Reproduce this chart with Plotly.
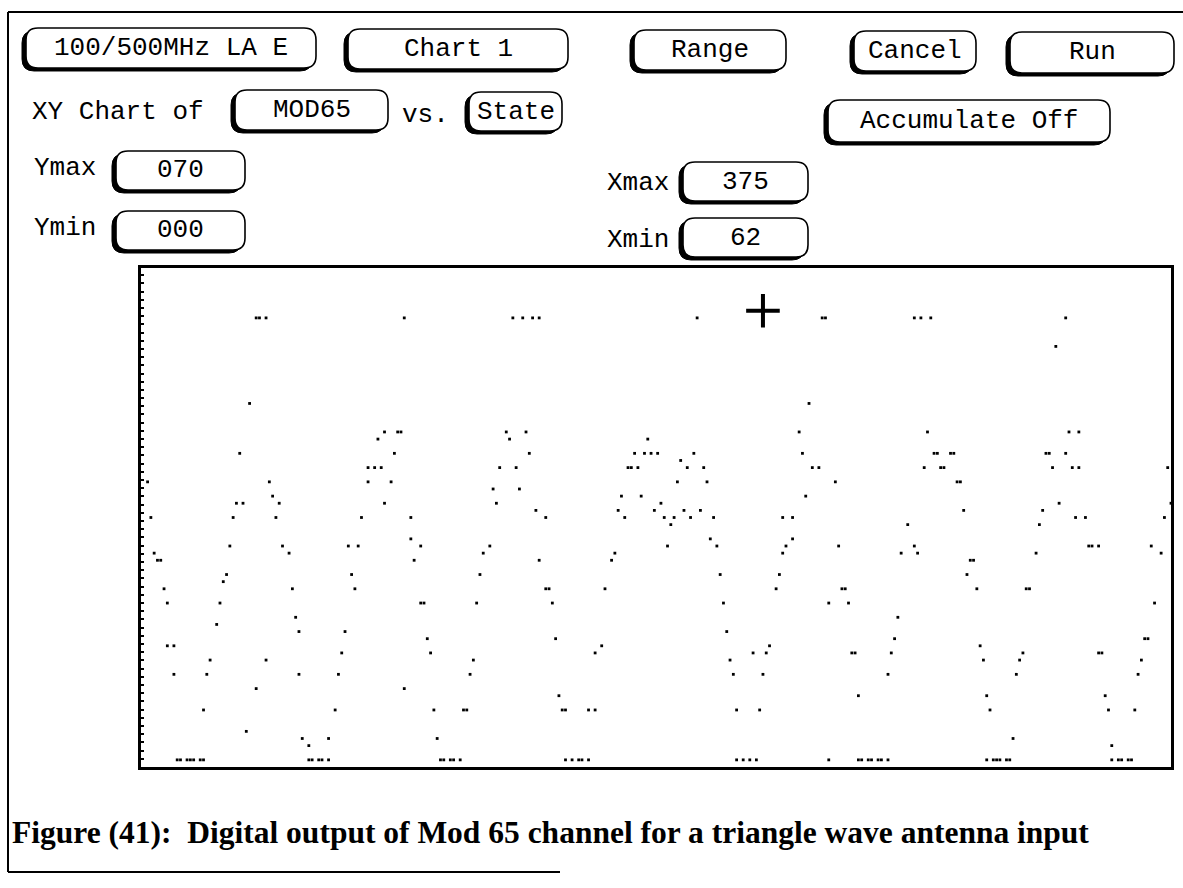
import plotly.graph_objects as go

W, H = 1183, 888

# Logged MOD65 samples: acquisition state number and decoded value
state = [
    97, 98, 100, 142, 175, 178, 181, 183, 231, 269, 270, 297, 299, 302, 343,
    340, 95, 265,
    136, 140, 141, 173, 179, 262, 301, 344, 347,
    134, 174, 216,
    92, 139, 180, 212, 215, 217, 219, 230, 263, 303, 304, 308, 309, 337, 338, 343,
    226,
    131, 133, 135, 171, 176, 210, 211, 213, 228, 233, 266, 268, 300, 305, 306, 339, 345, 347, 374,
    64, 101, 131, 138, 225, 234, 273, 310, 311,
    169, 177,
    102, 208, 214, 264,
    91, 93, 104, 136, 170, 220, 341, 375,
    182, 207, 218, 227, 232, 312, 336,
    65, 90, 103, 129, 144, 185, 209, 221, 224, 229, 236, 257, 260, 346, 349, 373,
    223, 295, 335,
    144, 235, 260,
    89, 105, 125, 128, 147, 168, 222, 237, 258, 274, 297, 350, 351, 353, 369,
    66, 107, 166, 206, 257, 293, 298, 334, 372,
    67, 68, 145, 183, 205, 314, 315,
    88, 126, 165, 238, 256, 313,
    87,
    69, 108, 127, 185, 186, 203, 255, 275, 276, 316, 331, 332,
    70, 86, 147, 148, 164, 187, 239, 271, 277, 370,
    109, 292,
    85,
    110, 124, 240,
    149, 188, 291, 367, 368,
    70, 72, 202, 253, 317,
    123, 150, 200, 248, 252, 278, 279, 290, 330, 353, 354,
    83, 100, 163, 241, 318, 329, 366,
    72, 82, 110, 122, 162, 242, 251, 289, 328, 365,
    97, 142,
    189, 280, 319, 355,
    81, 121, 151, 160, 161, 190, 191, 198, 200, 243, 250, 320, 356, 364,
    94,
    111, 119, 152, 327,
    113, 357,
    73, 74, 76, 77, 78, 80, 81, 113, 114, 116, 117, 119, 153, 154, 156, 157, 159,
    191, 193, 195, 196, 198, 243, 245, 247, 249, 271, 280, 281, 283, 284, 286, 287, 289,
    319, 321, 322, 323, 325, 326, 357, 359, 360, 362, 363,
]

mod65 = [
    63, 63, 63, 63, 63, 63, 63, 63, 63, 63, 63, 63, 63, 63, 63,
    59, 51, 51,
    47, 47, 47, 47, 47, 47, 47, 47, 47,
    46, 46, 46,
    44, 44, 44, 44, 44, 44, 44, 44, 44, 44, 44, 44, 44, 44, 44, 44,
    43,
    42, 42, 42, 42, 42, 42, 42, 42, 42, 42, 42, 42, 42, 42, 42, 42, 42, 42, 42,
    40, 40, 40, 40, 40, 40, 40, 40, 40,
    39, 39,
    38, 38, 38, 38,
    37, 37, 37, 37, 37, 37, 37, 37,
    36, 36, 36, 36, 36, 36, 36,
    35, 35, 35, 35, 35, 35, 35, 35, 35, 35, 35, 35, 35, 35, 35, 35,
    34, 34, 34,
    32, 32, 32,
    31, 31, 31, 31, 31, 31, 31, 31, 31, 31, 31, 31, 31, 31, 31,
    30, 30, 30, 30, 30, 30, 30, 30, 30,
    29, 29, 29, 29, 29, 29, 29,
    27, 27, 27, 27, 27, 27,
    26,
    25, 25, 25, 25, 25, 25, 25, 25, 25, 25, 25, 25,
    23, 23, 23, 23, 23, 23, 23, 23, 23, 23,
    21, 21,
    20,
    19, 19, 19,
    18, 18, 18, 18, 18,
    17, 17, 17, 17, 17,
    16, 16, 16, 16, 16, 16, 16, 16, 16, 16, 16,
    15, 15, 15, 15, 15, 15, 15,
    13, 13, 13, 13, 13, 13, 13, 13, 13, 13,
    11, 11,
    10, 10, 10, 10,
    8, 8, 8, 8, 8, 8, 8, 8, 8, 8, 8, 8, 8, 8,
    5,
    4, 4, 4, 4,
    3, 3,
    1, 1, 1, 1, 1, 1, 1, 1, 1, 1, 1, 1, 1, 1, 1, 1, 1,
    1, 1, 1, 1, 1, 1, 1, 1, 1, 1, 1, 1, 1, 1, 1, 1, 1,
    1, 1, 1, 1, 1, 1, 1, 1, 1, 1, 1,
]
assert len(state) == len(mod65)

# Chart range settings and cursor position
x_min, x_max = 62, 375
y_min, y_max = 0, 70
cursor_state, cursor_value = [251], [64]

SCREEN = "Liberation Mono"
INK = "black"


def px(x):
    return x / W


def py(y):
    return 1 - y / H


def rounded(x0, y0, x1, y1, r=12):
    pts = [
        ("M", x0 + r, y0), ("L", x1 - r, y0), ("Q", x1, y0, x1, y0 + r),
        ("L", x1, y1 - r), ("Q", x1, y1, x1 - r, y1), ("L", x0 + r, y1),
        ("Q", x0, y1, x0, y1 - r), ("L", x0, y0 + r), ("Q", x0, y0, x0 + r, y0),
    ]
    parts = []
    for p in pts:
        cmd, coords = p[0], p[1:]
        xy = []
        for i in range(0, len(coords), 2):
            xy.append(f"{px(coords[i]):.5f},{py(coords[i + 1]):.5f}")
        parts.append(cmd + " " + " ".join(xy))
    return " ".join(parts) + " Z"


shapes = []
annotations = []


def button(x0, y0, x1, y1, label, cx=None, size=26):
    shapes.append(dict(type="path", xref="paper", yref="paper",
                       path=rounded(x0 - 4, y0 + 3, x1 - 4, y1 + 3),
                       fillcolor=INK, line=dict(color=INK, width=1)))
    shapes.append(dict(type="path", xref="paper", yref="paper",
                       path=rounded(x0, y0, x1, y1),
                       fillcolor="white", line=dict(color=INK, width=1.6)))
    annotations.append(dict(xref="paper", yref="paper",
                            x=px(cx if cx is not None else (x0 + x1) / 2),
                            y=py((y0 + y1) / 2), text=label, showarrow=False,
                            xanchor="center", yanchor="middle",
                            font=dict(family=SCREEN, size=size, color=INK)))


def label(x, y, text, size=26):
    annotations.append(dict(xref="paper", yref="paper", x=px(x), y=py(y),
                            text=text, showarrow=False, xanchor="left",
                            yanchor="middle",
                            font=dict(family=SCREEN, size=size, color=INK)))


# page frame
for x0, y0, x1, y1 in [(8, 12, 1183, 12), (8, 12, 8, 872), (8, 872, 560, 872)]:
    shapes.append(dict(type="line", xref="paper", yref="paper",
                       x0=px(x0), y0=py(y0), x1=px(x1), y1=py(y1),
                       line=dict(color=INK, width=2)))

# instrument soft keys and fields
button(26, 28, 316, 68, "100/500MHz LA E")
button(348, 29, 568, 69, "Chart 1")
button(634, 30, 786, 70, "Range")
button(854, 31, 976, 71, "Cancel")
button(1010, 32, 1174, 73, "Run")
label(30, 112, "XY Chart of")
button(235, 90, 388, 130, "MOD65")
label(400, 115, "vs.")
button(469, 92, 562, 131, "State")
button(828, 100, 1110, 142, "Accumulate Off")
label(32, 168, "Ymax")
button(116, 151, 245, 190, "070")
label(32, 228, "Ymin")
button(116, 211, 245, 250, "000")
label(605, 183, "Xmax")
button(683, 162, 808, 201, "375")
label(605, 240, "Xmin")
button(683, 218, 808, 257, "62")

annotations.append(dict(
    xref="paper", yref="paper", x=px(10), y=py(832),
    text="Figure (41):\u00a0\u00a0Digital output of Mod 65 channel for a triangle wave antenna input",
    showarrow=False, xanchor="left", yanchor="middle",
    font=dict(family="Liberation Serif", size=31.5, color=INK, weight="bold")))

fig = go.Figure()
fig.add_trace(go.Scatter(
    x=state, y=mod65, mode="markers", cliponaxis=False,
    marker=dict(symbol="square", size=2.8, color=INK, line=dict(width=0)),
    hoverinfo="skip"))
fig.add_trace(go.Scatter(
    x=cursor_state, y=cursor_value, mode="markers", cliponaxis=False,
    marker=dict(symbol="cross-thin", size=24, color=INK,
                line=dict(color=INK, width=4)),
    hoverinfo="skip"))

fig.update_layout(
    width=W, height=H, autosize=False,
    margin=dict(l=0, r=0, t=0, b=0),
    paper_bgcolor="white", plot_bgcolor="white",
    showlegend=False,
    shapes=shapes, annotations=annotations,
    xaxis=dict(domain=[px(141), px(1171)], range=[x_min, x_max],
               showgrid=False, zeroline=False, showticklabels=False,
               showline=True, linecolor=INK, linewidth=3, mirror=True,
               ticks=""),
    yaxis=dict(domain=[py(767), py(268)], range=[y_min, y_max],
               showgrid=False, zeroline=False, showticklabels=False,
               showline=True, linecolor=INK, linewidth=3, mirror=True,
               ticks="inside", ticklen=3, tickwidth=2, tickcolor=INK,
               tick0=0, dtick=1.15),
)

fig.write_html("out.html", config={"displayModeBar": False})
